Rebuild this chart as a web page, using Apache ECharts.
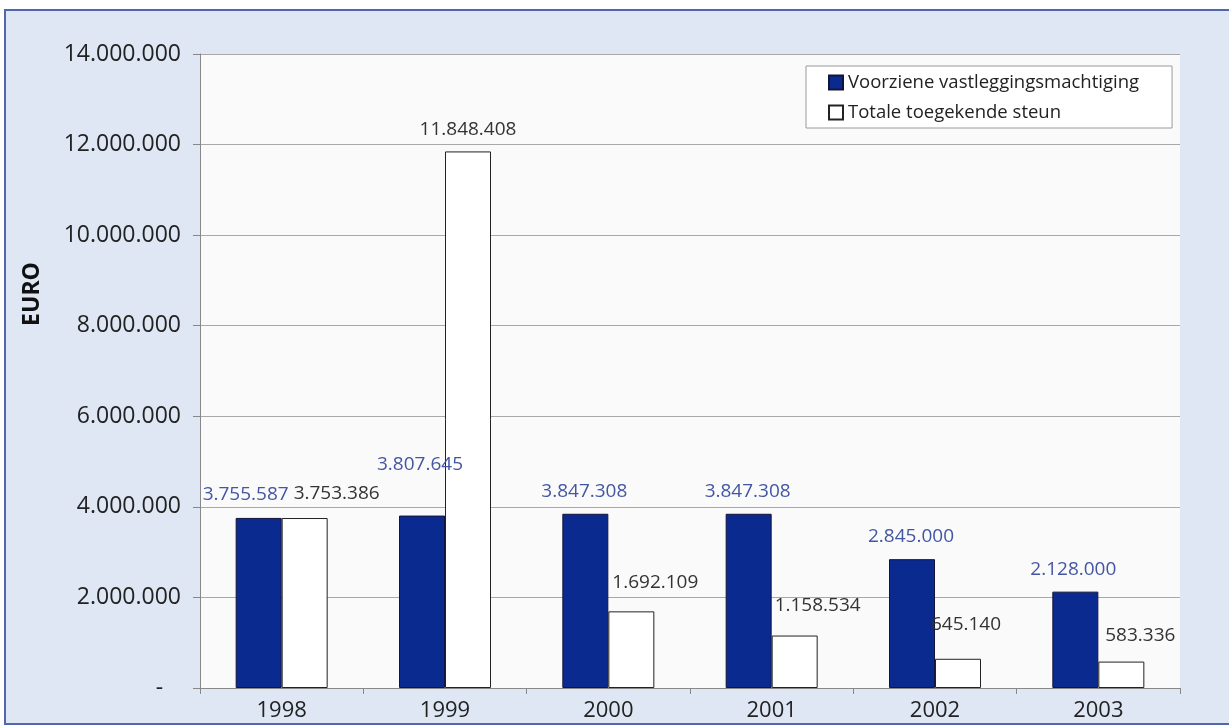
<!DOCTYPE html>
<html>
<head>
<meta charset="utf-8">
<script src="https://cdn.jsdelivr.net/npm/echarts@6/dist/echarts.min.js"></script>
<style>
html,body{margin:0;padding:0;background:#fff;}
#c{width:1229px;height:727px;}
</style>
</head>
<body>
<div id="c"></div>
<script>
var categories = ['1998','1999','2000','2001','2002','2003'];
var seriesNames = ['Voorziene vastleggingsmachtiging','Totale toegekende steun'];
var voorziene = [3755587, 3807645, 3847308, 3847308, 2845000, 2128000];
var toegekend = [3753386, 11848408, 1692109, 1158534, 645140, 583336];
var yTicks = {min: 0, max: 14000000, interval: 2000000};

// label placement tweaks (styling only)
var shiftA = [[-13,-1],[-2,-28],[-1,0],[-1,0],[-1,0],[-2,0]];
var shiftB = [[32,-2],[0,1],[24,-6],[23,-7],[8,-12],[19,-3]];

function fmt(v){
  return String(Math.round(v)).replace(/\B(?=(\d{3})+(?!\d))/g,'.');
}
function tickFmt(v){
  return v === 0 ? '-   ' : fmt(v);
}
function withLabels(vals, shifts){
  return vals.map(function(v,i){ return {value: v, label: {offset: shifts[i]}}; });
}

var FONT = 'Open Sans';
var chart = echarts.init(document.getElementById('c'), null, {renderer:'canvas'});
chart.setOption({
  animation: false,
  backgroundColor: '#ffffff',
  graphic: [
    {type:'rect', z:-10, shape:{x:5,y:10,width:1240,height:714},
     style:{fill:'#dfe6f4', stroke:'#5266ad', lineWidth:2}},
    {type:'rect', z:-9, shape:{x:200,y:54,width:980,height:634},
     style:{fill:'#fafafa'}},
    {type:'text', x:32, y:294, rotation: Math.PI/2,
     style:{text:'EURO', fontFamily: FONT, fontSize: 23, fontWeight:'bold', fill:'#111',
            align:'center', verticalAlign:'middle'}}
  ],
  grid: {left: 200, right: 49, top: 54, bottom: 39},
  legend: {
    orient: 'vertical',
    left: 806, top: 66,
    backgroundColor: '#ffffff',
    borderColor: '#9a9a9a', borderWidth: 1,
    padding: [7, 33, 6, 22],
    itemGap: 11,
    itemWidth: 14, itemHeight: 14,
    icon: 'rect',
    textStyle: {fontFamily: FONT, fontSize: 18.5, color: '#222'},
    data: seriesNames
  },
  xAxis: {
    type: 'category',
    data: categories,
    axisLine: {lineStyle: {color: '#888', width: 1}},
    axisTick: {show: true, length: 6, lineStyle: {color: '#888'}},
    axisLabel: {fontFamily: FONT, fontSize: 22, color: '#222', margin: 12}
  },
  yAxis: {
    type: 'value',
    min: yTicks.min, max: yTicks.max, interval: yTicks.interval,
    axisLine: {show: true, lineStyle: {color: '#888'}},
    axisTick: {show: true, length: 7, lineStyle: {color: '#888'}},
    splitLine: {show: true, lineStyle: {color: '#a8a8a8', width: 1}},
    axisLabel: {fontFamily: FONT, fontSize: 23, color: '#222', margin: 19, formatter: tickFmt}
  },
  series: [
    {
      name: seriesNames[0],
      type: 'bar',
      barWidth: 46,
      barGap: '0%',
      itemStyle: {color: '#0a2a8f', borderColor: '#14143a', borderWidth: 1},
      label: {show: true, position: 'top', distance: 13, formatter: function(p){return fmt(p.value);},
              fontFamily: FONT, fontSize: 19, color: '#4356a3'},
      data: withLabels(voorziene, shiftA)
    },
    {
      name: seriesNames[1],
      type: 'bar',
      barWidth: 46,
      itemStyle: {color: '#ffffff', borderColor: '#222', borderWidth: 1},
      label: {show: true, position: 'top', distance: 13, formatter: function(p){return fmt(p.value);},
              fontFamily: FONT, fontSize: 19, color: '#333'},
      data: withLabels(toegekend, shiftB)
    }
  ]
});
</script>
</body>
</html>
